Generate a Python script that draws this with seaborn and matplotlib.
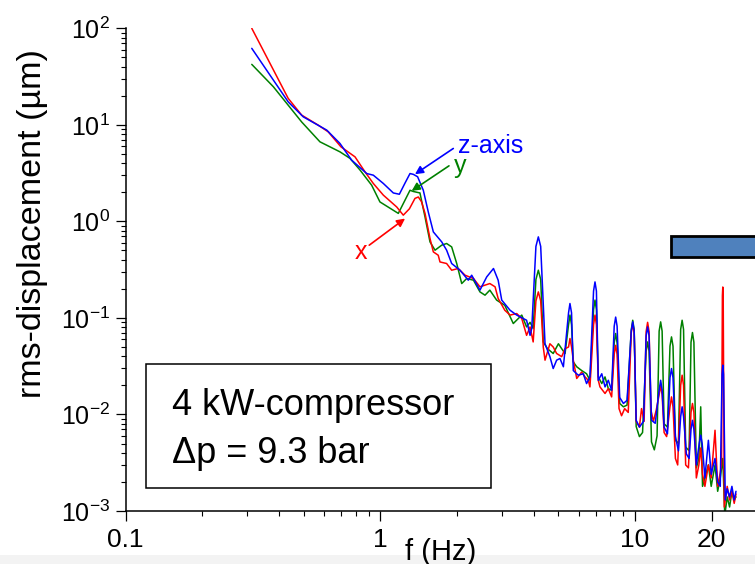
import matplotlib
matplotlib.use("Agg")
import matplotlib.pyplot as plt
import matplotlib.patches as mpatches
from matplotlib.ticker import LogLocator, FixedLocator, FixedFormatter, LogFormatterSciNotation, NullFormatter
import seaborn as sns
import pandas as pd

# ---------------- data ----------------
x_f = [0.3126, 0.4345, 0.491, 0.570, 0.624, 0.700, 0.795, 0.870, 0.938, 1.027, 1.159, 1.23, 1.30, 1.367,
       1.409, 1.45, 1.497, 1.566, 1.614, 1.687, 1.714, 1.82, 1.905, 2.02, 2.15, 2.32, 2.46, 2.69, 2.82, 2.90,
       3.08, 3.23, 3.43, 3.59, 3.75, 3.87, 3.98, 4.08, 4.17, 4.26, 4.36, 4.43, 4.63, 4.77, 4.92, 5.15, 5.31,
       5.48, 5.55, 5.63, 5.72, 5.90, 6.17, 6.36, 6.55, 6.65, 6.87, 6.96, 7.05, 7.17, 7.28, 7.62, 7.85, 8.09,
       8.28, 8.39, 8.50, 8.65, 8.85, 9.1, 9.4, 9.66, 9.79, 9.92, 10.1, 10.4, 10.6, 10.85, 11.05, 11.2, 11.35,
       11.55, 11.8, 12.1, 12.43, 12.6, 12.77, 13.0, 13.3, 13.71, 13.9, 14.09, 14.4, 14.7, 15.1, 15.3, 15.5,
       15.8, 16.2, 16.58, 16.8, 17.02, 17.4, 17.8, 18.1, 18.4, 18.8, 19.4, 19.9, 20.6, 21.1, 21.6, 21.85,
       22.02, 22.1, 22.18, 22.4, 23.0, 23.5, 24.0, 24.5, 24.9]
x_v = [100, 18.8, 12.6, 9.93, 8.46, 5.92, 4.66, 3.26, 2.47, 1.87, 1.41, 1.16, 1.35, 1.73,
       1.79, 1.6, 1.21, 0.665, 0.483, 0.446, 0.38, 0.366, 0.312, 0.325, 0.277, 0.256, 0.21, 0.227, 0.21, 0.159,
       0.120, 0.107, 0.111, 0.0986, 0.066, 0.0807, 0.0564, 0.15, 0.186, 0.15, 0.05, 0.0365, 0.054, 0.05, 0.0428, 0.0397, 0.048,
       0.05, 0.0612, 0.05, 0.0365, 0.0236, 0.0275, 0.0245, 0.0226, 0.0193, 0.085, 0.107, 0.085, 0.0226, 0.0193, 0.0165, 0.0185, 0.0152,
       0.042, 0.052, 0.042, 0.0115, 0.0097, 0.0115, 0.0105, 0.07, 0.087, 0.07, 0.0085, 0.0074, 0.0115, 0.0085, 0.072, 0.09, 0.072,
       0.011, 0.0085, 0.011, 0.016, 0.02, 0.016, 0.0065, 0.0059, 0.012, 0.0152, 0.012, 0.0035, 0.003, 0.02, 0.0255, 0.02,
       0.003, 0.0028, 0.0105, 0.013, 0.0105, 0.0022, 0.003, 0.0045, 0.0024, 0.0018, 0.003, 0.0022, 0.00686, 0.0018, 0.0025, 0.003,
       0.17, 0.209, 0.17, 0.0011, 0.0018, 0.0013, 0.0016, 0.0012, 0.0015]

y_f = [0.3126, 0.380, 0.491, 0.579, 0.694, 0.760, 0.832, 0.924, 0.996, 1.176, 1.307, 1.347, 1.430, 1.497,
       1.566, 1.639, 1.741, 1.82, 1.905, 1.994, 2.086, 2.182, 2.32, 2.46, 2.575, 2.69, 2.86, 3.08, 3.325,
       3.59, 3.75, 3.87, 3.98, 4.08, 4.17, 4.26, 4.36, 4.53, 4.77, 5.0, 5.15, 5.31, 5.48, 5.55, 5.63, 5.72,
       5.90, 6.17, 6.45, 6.65, 6.87, 6.96, 7.05, 7.17, 7.40, 7.62, 7.85, 8.09, 8.28, 8.39, 8.50, 8.7, 9.0,
       9.3, 9.66, 9.79, 9.92, 10.1, 10.4, 10.7, 11.05, 11.2, 11.35, 11.6, 11.9, 12.2, 12.43, 12.6, 12.77,
       13.0, 13.4, 13.71, 13.9, 14.09, 14.4, 14.8, 15.1, 15.3, 15.5, 15.8, 16.3, 16.58, 16.8, 17.02, 17.4,
       17.8, 18.1, 18.4, 18.8, 19.4, 19.9, 20.6, 21.1, 21.6, 22.1, 22.5, 23.0, 23.5, 24.0, 24.5, 24.9]
y_v = [42.3, 24.8, 10.7, 6.67, 5.25, 4.49, 3.40, 2.37, 1.59, 1.21, 2.10, 2.04, 1.97, 1.11,
       0.613, 0.503, 0.567, 0.59, 0.544, 0.366, 0.227, 0.256, 0.246, 0.186, 0.172, 0.194, 0.153, 0.135, 0.0875,
       0.107, 0.0807, 0.09, 0.078, 0.25, 0.312, 0.25, 0.0564, 0.048, 0.0428, 0.054, 0.048, 0.0428, 0.085, 0.107, 0.085, 0.035,
       0.0312, 0.0285, 0.0264, 0.0226, 0.122, 0.153, 0.122, 0.0245, 0.0209, 0.0245, 0.0185, 0.0178, 0.055, 0.069, 0.055, 0.013, 0.012,
       0.0125, 0.075, 0.0946, 0.075, 0.0075, 0.0059, 0.0065, 0.045, 0.0564, 0.045, 0.0052, 0.0043, 0.006, 0.073, 0.091, 0.073,
       0.008, 0.0074, 0.051, 0.0636, 0.051, 0.0054, 0.005, 0.076, 0.0946, 0.076, 0.0046, 0.0042, 0.056, 0.0706, 0.056, 0.0028,
       0.0035, 0.012, 0.0018, 0.0022, 0.003, 0.0018, 0.003, 0.0016, 0.0022, 0.0035, 0.0009, 0.0014, 0.0011, 0.0016, 0.0013, 0.0014]

z_f = [0.3126, 0.4345, 0.498, 0.616, 0.694, 0.771, 0.884, 0.938, 1.027, 1.124, 1.187, 1.25, 1.307, 1.347,
       1.40, 1.474, 1.542, 1.614, 1.741, 1.82, 1.905, 2.054, 2.214, 2.283, 2.46, 2.615, 2.78, 2.90, 2.995,
       3.23, 3.43, 3.75, 3.87, 3.93, 4.08, 4.17, 4.26, 4.43, 4.63, 4.77, 4.92, 5.07, 5.23, 5.48, 5.55, 5.63,
       5.72, 5.98, 6.26, 6.45, 6.65, 6.87, 6.96, 7.05, 7.17, 7.40, 7.62, 7.85, 8.09, 8.28, 8.39, 8.50, 8.7,
       9.0, 9.3, 9.66, 9.79, 9.92, 10.1, 10.4, 10.8, 11.05, 11.2, 11.35, 11.6, 12.0, 12.43, 12.6, 12.77,
       13.0, 13.4, 13.71, 13.9, 14.09, 14.4, 14.8, 15.1, 15.3, 15.5, 15.9, 16.3, 16.58, 16.8, 17.02, 17.4,
       17.86, 18.1, 18.34, 18.8, 19.4, 19.9, 20.6, 21.1, 21.6, 21.95, 22.1, 22.25, 22.6, 23.0, 23.5, 24.0,
       24.5, 24.9]
z_v = [62, 17.3, 12.1, 8.81, 6.41, 4.31, 3.13, 3.01, 2.47, 1.97, 1.91, 2.5, 3.13, 3.07,
       2.9, 2.1, 1.25, 0.778, 0.613, 0.503, 0.366, 0.312, 0.246, 0.277, 0.194, 0.266, 0.325, 0.246, 0.153,
       0.12, 0.107, 0.0946, 0.066, 0.0779, 0.55, 0.691, 0.55, 0.054, 0.0397, 0.0299, 0.0365, 0.038, 0.0312, 0.113, 0.141, 0.113,
       0.0285, 0.0255, 0.0264, 0.0209, 0.0245, 0.19, 0.236, 0.19, 0.0226, 0.0264, 0.0193, 0.0226, 0.0178, 0.082, 0.102, 0.082, 0.015,
       0.013, 0.014, 0.073, 0.091, 0.073, 0.0087, 0.0074, 0.0085, 0.065, 0.0807, 0.065, 0.0087, 0.0081, 0.018, 0.0226, 0.018,
       0.0074, 0.0063, 0.024, 0.0299, 0.024, 0.0059, 0.0042, 0.0095, 0.012, 0.0095, 0.0039, 0.0035, 0.007, 0.0087, 0.007, 0.003,
       0.005, 0.0061, 0.005, 0.0022, 0.0054, 0.0024, 0.0035, 0.002, 0.0018, 0.026, 0.0324, 0.026, 0.0013, 0.0017, 0.0014, 0.0018,
       0.0013, 0.0016]

x_ticks = [0.1, 1, 10, 20]
x_ticklabels = ["0.1", "1", "10", "20"]
series_names = ["y", "x", "z-axis"]
series_colors = {"y": "#008000", "x": "#ff0000", "z-axis": "#0000ff"}

# ---------------- build table ----------------
rows = []
for name, fs, vs in (("y", y_f, y_v), ("x", x_f, x_v), ("z-axis", z_f, z_v)):
    for i, (f, v) in enumerate(zip(fs, vs)):
        rows.append({"f": f, "v": v, "axis": name, "i": i})
df = pd.DataFrame(rows)

# ---------------- style ----------------
sns.set_theme(style="ticks")
plt.rcParams["font.family"] = ["Liberation Sans", "DejaVu Sans"]
plt.rcParams["mathtext.fontset"] = "custom"
plt.rcParams["mathtext.rm"] = "Liberation Sans"
plt.rcParams["mathtext.it"] = "Liberation Sans:italic"
plt.rcParams["mathtext.bf"] = "Liberation Sans:bold"
plt.rcParams["axes.unicode_minus"] = False

fig = plt.figure(figsize=(7.55, 5.64), dpi=100)
fig.patch.set_facecolor("white")
ax = fig.add_axes([0.16649, 0.09397, 0.83351, 0.85585])

sns.lineplot(data=df, x="f", y="v", hue="axis", hue_order=series_names,
             palette=series_colors, estimator=None, sort=False, units="axis",
             legend=False, linewidth=1.1, ax=ax)

ax.set_xscale("log")
ax.set_yscale("log")
ax.set_xlim(0.1, 29.57)
ax.set_ylim(1e-3, 1e2)

ax.xaxis.set_major_locator(FixedLocator(x_ticks))
ax.xaxis.set_major_formatter(FixedFormatter(x_ticklabels))
ax.xaxis.set_minor_locator(LogLocator(base=10, subs=[2, 3, 4, 5, 6, 7, 8, 9], numticks=20))
ax.xaxis.set_minor_formatter(NullFormatter())
ax.yaxis.set_major_locator(LogLocator(base=10, numticks=10))
ax.yaxis.set_major_formatter(LogFormatterSciNotation())
ax.yaxis.set_minor_locator(LogLocator(base=10, subs=[2, 3, 4, 5, 6, 7, 8, 9], numticks=20))
ax.yaxis.set_minor_formatter(NullFormatter())

ax.tick_params(axis="both", which="major", direction="out", length=7.2, width=0.9, color="black")
ax.tick_params(axis="both", which="minor", direction="out", length=3.6, width=0.8, color="black")
ax.tick_params(axis="x", which="major", labelsize=19, pad=5, labelcolor="black")
ax.tick_params(axis="y", which="major", labelsize=18, pad=4, labelcolor="black")

for s in ("top", "right"):
    ax.spines[s].set_visible(False)
for s in ("left", "bottom"):
    ax.spines[s].set_linewidth(1.1)
    ax.spines[s].set_color("black")

ax.set_xlabel("f (Hz)", fontsize=21, color="black")
ax.xaxis.set_label_coords(0.501, -0.056)
ax.set_ylabel("rms-displacement (µm)", fontsize=24.5, color="black")
ax.yaxis.set_label_coords(-0.1235, 0.5946)

# annotations
ax.annotate("", xy=(1.367, 3.08), xytext=(1.933, 5.69), xycoords="data",
            arrowprops=dict(arrowstyle="-|>", color="#0000ff", lw=1.2, mutation_scale=12, shrinkA=0, shrinkB=0))
ax.text(2.022, 5.09, "z-axis", color="#0000ff", fontsize=18, ha="left", va="baseline")
ax.annotate("", xy=(1.327, 2.07), xytext=(1.859, 3.76), xycoords="data",
            arrowprops=dict(arrowstyle="-|>", color="#008000", lw=1.2, mutation_scale=12, shrinkA=0, shrinkB=0))
ax.text(1.945, 3.16, "y", color="#008000", fontsize=18, ha="left", va="baseline")
ax.annotate("", xy=(1.25, 1.07), xytext=(0.904, 0.567), xycoords="data",
            arrowprops=dict(arrowstyle="-|>", color="#ff0000", lw=1.2, mutation_scale=12, shrinkA=0, shrinkB=0))
ax.text(0.795, 0.406, "x", color="#ff0000", fontsize=18, ha="left", va="baseline")

# text box
box = mpatches.Rectangle((0.0323, 0.0476), 0.5482, 0.2563, transform=ax.transAxes,
                         facecolor="white", edgecolor="black", linewidth=1.1, zorder=4)
ax.add_patch(box)
ax.text(0.0731, 0.1989, "4 kW-compressor", transform=ax.transAxes, fontsize=26,
        ha="left", va="baseline", color="black", zorder=5)
ax.text(0.0731, 0.100, "Δp = 9.3 bar", transform=ax.transAxes, fontsize=26,
        ha="left", va="baseline", color="black", zorder=5)

# decorations from the source slide
fig.patches.append(mpatches.Rectangle((0.8883, 0.5449), 0.13, 0.0372, transform=fig.transFigure,
                                      facecolor="#4F81BD", edgecolor="black", linewidth=2, zorder=5))
fig.patches.append(mpatches.Rectangle((0, 0), 1, 9 / 564, transform=fig.transFigure,
                                      facecolor="#f3f3f3", edgecolor="none", zorder=-1))

fig.savefig("out.png", dpi=100)
